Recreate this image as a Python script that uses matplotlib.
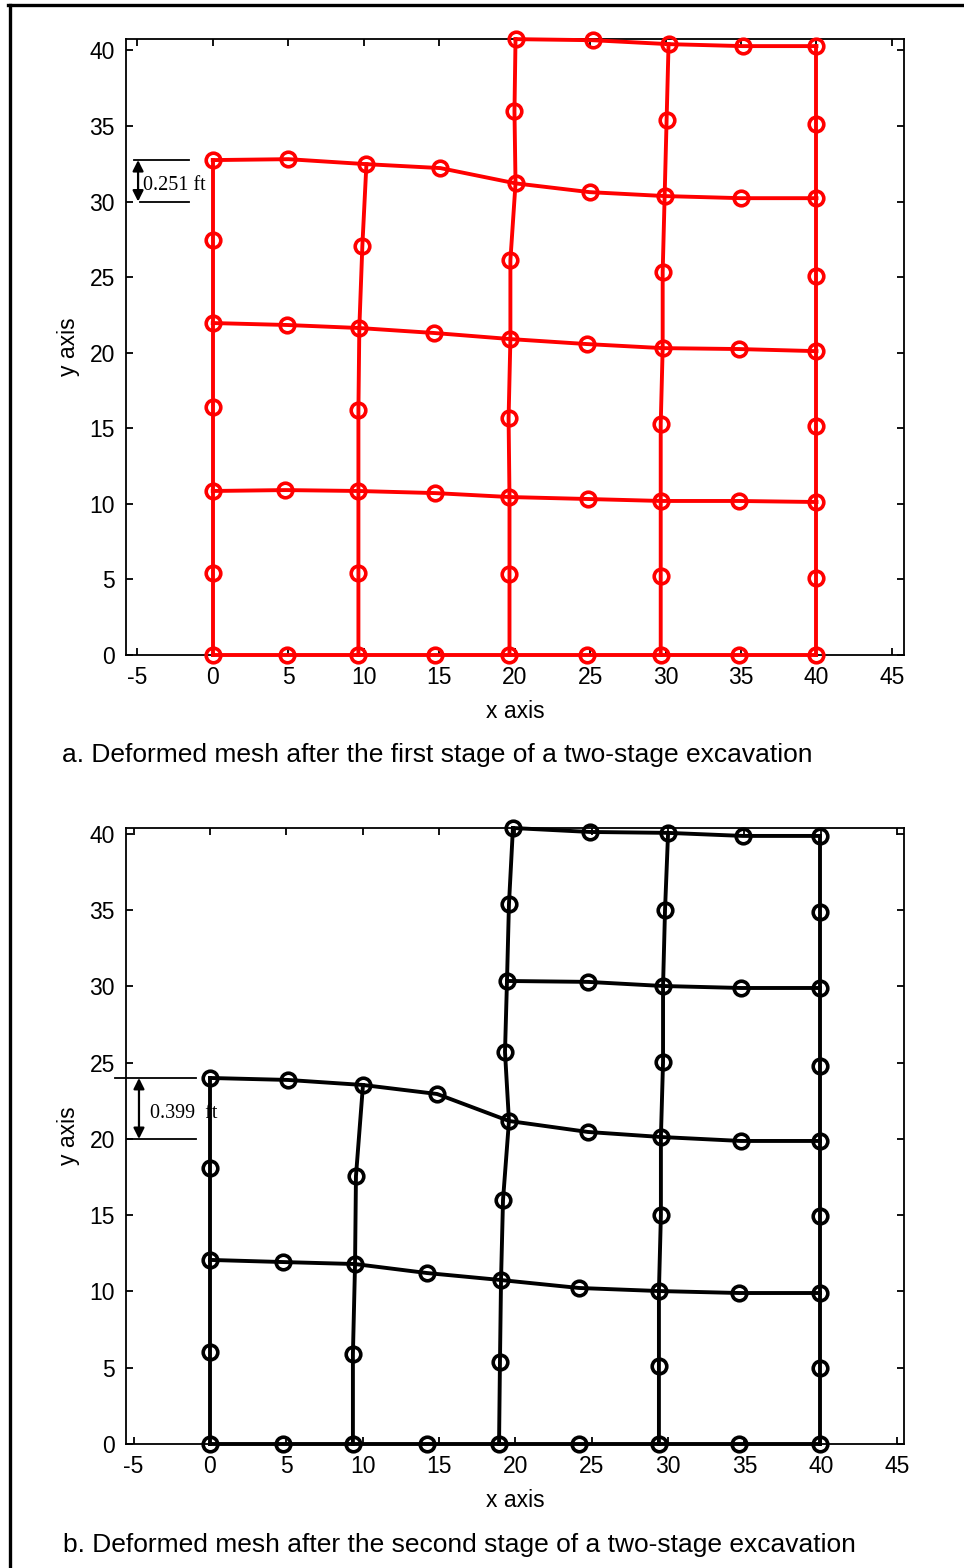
"""Deformed finite element mesh after a two-stage excavation (two panels)."""
import numpy as np
import matplotlib
matplotlib.use("Agg")
import matplotlib.pyplot as plt
from matplotlib.lines import Line2D

plt.rcParams["font.family"] = ["Liberation Sans", "DejaVu Sans"]
plt.rcParams["axes.unicode_minus"] = False

n = np.nan

# Node coordinates of the deformed mesh, indexed [row j][column i]
# (original grid: x = 0..40 step 5, y = 0..40 step 5; NaN = no node)
stage1_x = [
    [0.0, 4.94, 9.65, 14.75, 19.66, 24.77, 29.68, 34.85, 40.0],
    [0.0, n, 9.65, n, 19.66, n, 29.68, n, 40.0],
    [0.0, 4.81, 9.65, 14.75, 19.66, 24.83, 29.68, 34.85, 40.0],
    [0.0, n, 9.65, n, 19.60, n, 29.68, n, 40.0],
    [0.0, 4.94, 9.71, 14.69, 19.72, 24.77, 29.81, 34.85, 40.0],
    [0.0, n, 9.91, n, 19.72, n, 29.81, n, 40.0],
    [0.0, 5.01, 10.18, 15.08, 20.06, 24.97, 29.94, 34.98, 40.0],
    [n, n, n, n, 19.99, n, 30.07, n, 40.0],
    [n, n, n, n, 20.06, 25.17, 30.20, 35.11, 40.0],
]
stage1_y = [
    [0.0, 0.0, 0.0, 0.0, 0.0, 0.0, 0.0, 0.0, 0.0],
    [5.42, n, 5.42, n, 5.36, n, 5.22, n, 5.09],
    [10.85, 10.91, 10.85, 10.71, 10.45, 10.32, 10.19, 10.19, 10.12],
    [16.40, n, 16.20, n, 15.67, n, 15.28, n, 15.15],
    [21.96, 21.83, 21.63, 21.30, 20.90, 20.57, 20.30, 20.24, 20.10],
    [27.45, n, 27.05, n, 26.12, n, 25.33, n, 25.07],
    [32.74, 32.80, 32.47, 32.21, 31.20, 30.62, 30.36, 30.22, 30.22],
    [n, n, n, n, 35.98, n, 35.38, n, 35.12],
    [n, n, n, n, 40.74, 40.67, 40.41, 40.28, 40.28],
]

stage2_x = [
    [0.0, 4.78, 9.36, 14.21, 18.93, 24.17, 29.40, 34.64, 39.95],
    [0.0, n, 9.36, n, 18.99, n, 29.40, n, 39.95],
    [0.0, 4.78, 9.50, 14.21, 19.06, 24.17, 29.40, 34.64, 39.95],
    [0.0, n, 9.56, n, 19.19, n, 29.53, n, 39.95],
    [0.0, 5.11, 10.02, 14.87, 19.58, 24.75, 29.53, 34.77, 39.95],
    [n, n, n, n, 19.32, n, 29.67, n, 39.95],
    [n, n, n, n, 19.45, 24.75, 29.67, 34.77, 39.95],
    [n, n, n, n, 19.58, n, 29.80, n, 39.95],
    [n, n, n, n, 19.84, 24.89, 30.00, 34.90, 39.95],
]
stage2_y = [
    [0.0, 0.0, 0.0, 0.0, 0.0, 0.0, 0.0, 0.0, 0.0],
    [6.03, n, 5.90, n, 5.38, n, 5.11, n, 4.98],
    [12.07, 11.93, 11.80, 11.21, 10.75, 10.23, 10.03, 9.90, 9.90],
    [18.10, n, 17.57, n, 16.00, n, 15.02, n, 14.95],
    [24.00, 23.87, 23.54, 22.95, 21.18, 20.46, 20.13, 19.87, 19.87],
    [n, n, n, n, 25.70, n, 25.05, n, 24.79],
    [n, n, n, n, 30.36, 30.30, 30.03, 29.90, 29.90],
    [n, n, n, n, 35.41, n, 35.02, n, 34.89],
    [n, n, n, n, 40.39, 40.13, 40.07, 39.87, 39.87],
]

# Settlement callouts
stage1_label = "0.251 ft"
stage2_label = "0.399  ft"
stage1_level = 30.0
stage2_level = 20.0

captions = [
    "a. Deformed mesh after the first stage of a two-stage excavation",
    "b. Deformed mesh after the second stage of a two-stage excavation",
]

W, H = 964, 1568


def draw_mesh(ax, gx, gy, color):
    gx = np.array(gx, dtype=float)
    gy = np.array(gy, dtype=float)
    # element edges: rows and columns through corner nodes
    for j in range(0, gx.shape[0], 2):
        ok = ~np.isnan(gx[j])
        ax.plot(gx[j][ok], gy[j][ok], "-", color=color, lw=2.8, zorder=3, clip_on=False)
    for i in range(0, gx.shape[1], 2):
        ok = ~np.isnan(gx[:, i])
        ax.plot(gx[:, i][ok], gy[:, i][ok], "-", color=color, lw=2.8, zorder=3, clip_on=False)
    ok = ~np.isnan(gx)
    ax.plot(gx[ok], gy[ok], "o", color=color, mfc="none", ms=10.5, mew=2.6, zorder=4, clip_on=False)


def style_axes(ax, xlim, ylim):
    ax.set_xlim(*xlim)
    ax.set_ylim(*ylim)
    ax.set_xticks(np.arange(-5, 46, 5))
    ax.set_yticks(np.arange(0, 41, 5))
    ax.tick_params(direction="in", length=5, width=1.3, top=True, right=True,
                   labelsize=16.5, pad=8)
    for s in ax.spines.values():
        s.set_linewidth(1.3)
    ax.set_xlabel("x axis", fontsize=16.5, labelpad=8)
    ax.set_ylabel("y axis", fontsize=16.5, labelpad=7)


def callout(ax, x_arrow, x_top, x_bot, x_end, y_bot, y_top, text, x_text):
    ax.plot([x_top, x_end], [y_top, y_top], color="black", lw=1.3, clip_on=False, zorder=2)
    ax.plot([x_bot, x_end], [y_bot, y_bot], color="black", lw=1.3, clip_on=False, zorder=2)
    ax.annotate("", xy=(x_arrow, y_bot), xytext=(x_arrow, y_top),
                arrowprops=dict(arrowstyle="<|-|>", color="black", lw=1.6,
                                mutation_scale=16, shrinkA=0, shrinkB=0),
                annotation_clip=False, zorder=2)
    ax.annotate(text, xy=(x_text, (y_top + y_bot) / 2), xytext=(0, -3.5),
                textcoords="offset points", family=["Liberation Serif", "DejaVu Serif"],
                fontsize=14.5, va="center", ha="left", zorder=1, annotation_clip=False)


fig = plt.figure(figsize=(W / 100, H / 100), dpi=100)

ax1 = fig.add_axes([126 / W, 1 - 655 / H, 778 / W, 616 / H])
style_axes(ax1, (-5.75, 45.8), (0, 40.75))
draw_mesh(ax1, stage1_x, stage1_y, (1.0, 0.0, 0.0))
callout(ax1, -4.95, -5.2, -4.8, -1.56, stage1_level, stage1_y[6][0], stage1_label, -4.6)

ax2 = fig.add_axes([126 / W, 1 - 1444 / H, 778 / W, 616 / H])
style_axes(ax2, (-5.5, 45.45), (0, 40.39))
draw_mesh(ax2, stage2_x, stage2_y, "black")
callout(ax2, -4.65, -6.2, -5.44, -0.92, stage2_level, stage2_y[4][0], stage2_label, -3.95)

fig.text(62 / W, 1 - 755 / H, captions[0], fontsize=19, va="center", ha="left")
fig.text(63 / W, 1 - 1545 / H, captions[1], fontsize=19, va="center", ha="left")

# outer frame (left and top edges)
fig.add_artist(Line2D([9.5 / W, 9.5 / W], [0, 1 - 4.5 / H], transform=fig.transFigure,
                      color="black", lw=2.4))
fig.add_artist(Line2D([8 / W, 1], [1 - 4.5 / H, 1 - 4.5 / H], transform=fig.transFigure,
                      color="black", lw=2.4))

fig.savefig("out.png", dpi=100)
